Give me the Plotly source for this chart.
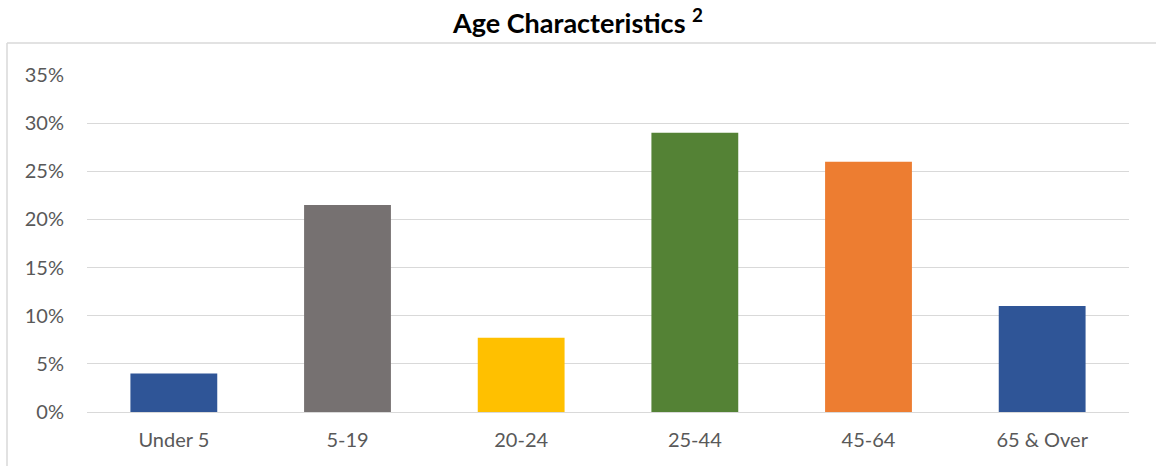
import plotly.graph_objects as go

categories = ["Under 5", "5-19", "20-24", "25-44", "45-64", "65 & Over"]
values = [0.040, 0.215, 0.077, 0.290, 0.260, 0.110]
colors = ["#2F5597", "#767171", "#FFC000", "#548235", "#ED7D31", "#2F5597"]

W, H = 1156, 466
ml, mr, mt, mb = 87, 27, 75, 54
pw, ph = W - ml - mr, H - mt - mb

fig = go.Figure(go.Bar(x=categories, y=values, marker=dict(color=colors, line=dict(width=0)),
                       width=0.5, hoverinfo="x+y"))

fig.update_layout(
    width=W, height=H,
    margin=dict(l=ml, r=mr, t=mt, b=mb),
    paper_bgcolor="white", plot_bgcolor="white",
    font=dict(family="Lato, Open Sans, sans-serif", color="#595959", size=20),
    title=dict(text="<b>Age Characteristics <sup>2</sup></b>", x=0.5, xanchor="center",
               y=1 - 24 / H, yanchor="middle",
               font=dict(size=27, color="black", family="Lato, Open Sans, sans-serif")),
    showlegend=False,
    bargap=0.5,
)
fig.update_yaxes(range=[0, 0.35], dtick=0.05, tickformat=".0%", showgrid=True,
                 gridcolor="#D9D9D9", gridwidth=1, zeroline=True, zerolinecolor="#D9D9D9",
                 zerolinewidth=1, showline=False, ticks="", ticklabelstandoff=22)
fig.update_xaxes(showgrid=False, showline=False, ticks="", ticklabelstandoff=14)

# outer chart frame (light gray)
x0 = (7 - ml) / pw
y1 = 1 + (mt - 43) / ph
fig.add_shape(type="line", xref="paper", yref="paper", x0=x0, x1=x0, y0=-0.5, y1=y1,
              line=dict(color="#D9D9D9", width=1.5))
fig.add_shape(type="line", xref="paper", yref="paper", x0=x0, x1=1.5, y0=y1, y1=y1,
              line=dict(color="#D9D9D9", width=1.5))

fig.write_html("out.html")
